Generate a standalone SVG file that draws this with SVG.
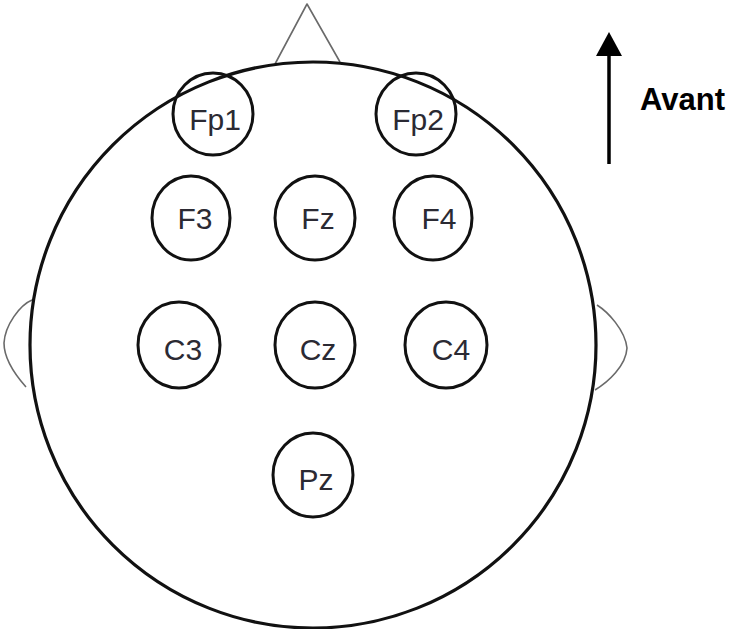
<svg xmlns="http://www.w3.org/2000/svg" width="732" height="629" viewBox="0 0 732 629">
  <style>
    .head { fill: none; stroke: #111; stroke-width: 3.2; }
    .feature { fill: none; stroke: #6a6a6a; stroke-width: 1.6; stroke-linejoin: round; }
    .electrode ellipse { fill: none; stroke: #111; stroke-width: 3; }
    .electrode text { font-family: "Liberation Sans", Arial, sans-serif; font-size: 30px; fill: #2b2a33; text-anchor: middle; }
    .label { font-family: "Liberation Sans", Arial, sans-serif; font-size: 31px; font-weight: bold; fill: #000; }
  </style>
  <defs>
    <marker id="arrowhead" markerWidth="24" markerHeight="26" refX="2" refY="13" orient="auto" markerUnits="userSpaceOnUse" viewBox="0 0 24 26">
      <path d="M0,0 L24,13 L0,26 Z" fill="#000"/>
    </marker>
  </defs>

  <rect width="732" height="629" fill="#fff"/>

  <!-- nose and ears -->
  <g id="head-features">
    <path class="feature" d="M275,64 L307,4 L340,62"/>
    <path class="feature" d="M32,300 C20,305 5,325 4,343 C4,360 18,378 26,387"/>
    <path class="feature" d="M597,305 C608,312 625,330 627,348 C626,366 608,382 595,390"/>
  </g>

  <!-- head outline -->
  <g id="head">
    <circle class="head" cx="313" cy="345" r="283"/>
  </g>

  <!-- electrodes -->
  <g id="Fp1" class="electrode">
    <ellipse cx="213" cy="114" rx="40" ry="41"/>
    <text x="215" y="130">Fp1</text>
  </g>
  <g id="Fp2" class="electrode">
    <ellipse cx="416" cy="114" rx="40" ry="41"/>
    <text x="418" y="130">Fp2</text>
  </g>
  <g id="F3" class="electrode">
    <ellipse cx="191" cy="218" rx="39" ry="42"/>
    <text x="195" y="229">F3</text>
  </g>
  <g id="Fz" class="electrode">
    <ellipse cx="315" cy="218" rx="40" ry="42"/>
    <text x="318" y="229">Fz</text>
  </g>
  <g id="F4" class="electrode">
    <ellipse cx="433" cy="218" rx="39" ry="42"/>
    <text x="439" y="229">F4</text>
  </g>
  <g id="C3" class="electrode">
    <ellipse cx="179" cy="345" rx="41" ry="43"/>
    <text x="183" y="360">C3</text>
  </g>
  <g id="Cz" class="electrode">
    <ellipse cx="315" cy="345" rx="40" ry="43"/>
    <text x="318" y="360">Cz</text>
  </g>
  <g id="C4" class="electrode">
    <ellipse cx="446" cy="345" rx="41" ry="43"/>
    <text x="451" y="360">C4</text>
  </g>
  <g id="Pz" class="electrode">
    <ellipse cx="313" cy="475" rx="40" ry="42"/>
    <text x="316" y="490">Pz</text>
  </g>

  <!-- direction indicator -->
  <g id="connectors">
    <line x1="609" y1="164" x2="609" y2="54" stroke="#000" stroke-width="3.5" marker-end="url(#arrowhead)"/>
  </g>
  <g id="avant">
    <text class="label" x="640" y="110">Avant</text>
  </g>
</svg>
